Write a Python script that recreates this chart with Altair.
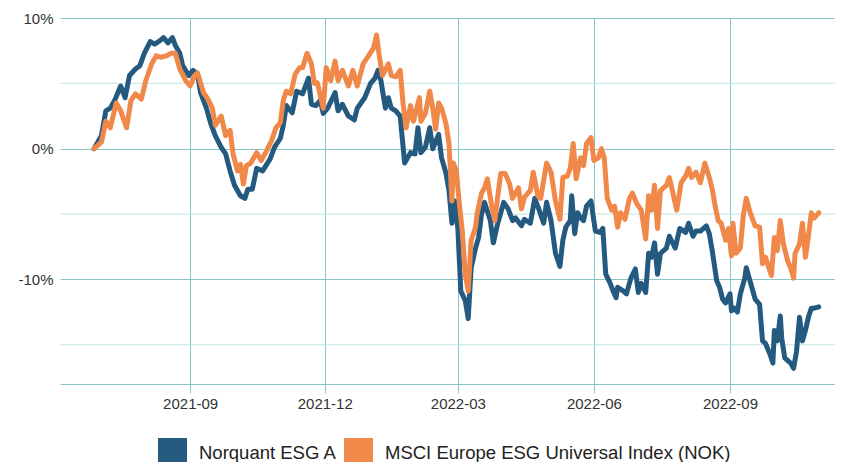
import altair as alt
import pandas as pd

# ---- data ----
start_date = "2021-06-28"
series_names = ["Norquant ESG A", "MSCI Europe ESG Universal Index (NOK)"]
series_colors = ["#245a80", "#f0884a"]

# days since start, cumulative return in %
blue_days = [0, 5, 8, 11, 14, 18, 21, 24, 28, 31, 34, 38, 41, 45, 47, 50, 53, 55, 58, 60,
             64, 67, 70, 72, 76, 79, 82, 86, 89, 92, 95, 99, 102, 104, 107, 110, 114, 119, 122, 126,
             128, 130, 134, 137, 141, 145, 147, 150, 153, 155, 158, 163, 165, 168, 172, 176, 178, 183, 187, 190,
             192, 194, 197, 199, 201, 204, 207, 210, 214, 217, 219, 221, 224, 227, 229, 233, 235, 238, 240, 242,
             244, 246, 248, 251, 253, 255, 258, 260, 262, 264, 268, 270, 273, 277, 280, 283, 285, 289, 291, 295,
             298, 301, 304, 306, 309, 312, 315, 317, 319, 322, 323, 325, 327, 329, 331, 333, 336, 339, 342, 344,
             346, 349, 351, 353, 354, 358, 360, 363, 366, 368, 370, 373, 375, 377, 379, 381, 383, 387, 389, 393,
             396, 400, 402, 405, 407, 410, 414, 416, 418, 421, 423, 425, 427, 430, 431, 433, 435, 437, 440, 441,
             444, 447, 450, 452, 454, 457, 459, 460, 462, 464, 465, 467, 471, 473, 475, 477, 479, 481, 483, 485,
             487, 490]
blue_vals = [0.0, 1.0, 2.9, 3.1, 3.7, 4.8, 3.9, 5.6, 6.1, 6.35, 7.3, 8.2, 8.0, 8.3, 8.5, 8.1, 8.5, 7.9, 7.3, 6.35,
             5.6, 6.0, 5.7, 4.3, 3.1, 1.9, 1.0, 0.1, -0.4, -1.7, -2.8, -3.6, -3.8, -3.1, -3.1, -1.5, -1.7, -0.8, 0.1, 0.8,
             1.8, 3.3, 2.75, 4.4, 4.2, 5.4, 3.4, 3.3, 3.7, 2.7, 3.1, 4.3, 2.9, 3.4, 2.5, 2.2, 3.1, 3.9, 5.0, 5.4,
             6.0, 5.2, 3.1, 3.9, 3.1, 2.9, 2.5, -1.1, -0.3, -0.4, 1.6, -0.3, 0.1, 1.6, 0.0, 1.1, -0.7, -1.9, -3.2, -5.7,
             -4.0, -6.1, -10.9, -11.6, -13.0, -9.1, -7.6, -6.8, -5.0, -4.1, -5.5, -7.2, -5.7, -4.1, -4.6, -5.5, -5.3, -5.9, -5.4, -5.7,
             -3.8, -4.7, -5.7, -4.1, -5.5, -8.0, -9.0, -7.0, -6.0, -5.5, -3.6, -6.5, -4.9, -5.3, -5.5, -4.4, -4.0, -6.3, -6.4, -6.1,
             -9.6, -10.3, -10.9, -11.4, -10.6, -10.9, -11.1, -9.9, -9.2, -11.0, -10.3, -11.0, -8.0, -8.3, -7.2, -9.6, -8.0, -7.6, -6.7, -7.6,
             -6.1, -6.4, -5.7, -6.7, -6.3, -6.3, -5.9, -6.5, -7.8, -10.1, -10.6, -11.5, -11.8, -11.1, -12.4, -12.2, -12.5, -11.1, -9.9, -9.1,
             -10.3, -11.5, -11.9, -14.7, -14.9, -15.7, -16.4, -13.9, -14.7, -12.8, -14.5, -16.0, -16.4, -16.8, -15.5, -12.9, -14.7, -13.9, -12.9, -12.2,
             -12.2, -12.1]

orange_days = [0, 5, 8, 11, 15, 18, 22, 25, 28, 32, 35, 39, 42, 45, 49, 52, 55, 58, 62, 65,
               68, 70, 74, 77, 80, 82, 86, 89, 92, 94, 97, 99, 101, 103, 106, 110, 113, 116, 120, 123,
               126, 128, 130, 133, 136, 139, 141, 144, 147, 149, 151, 155, 157, 160, 163, 165, 168, 172, 175, 178,
               182, 185, 189, 191, 193, 195, 199, 201, 204, 207, 209, 211, 214, 216, 220, 221, 224, 227, 229, 231,
               233, 235, 238, 240, 242, 243, 245, 247, 249, 251, 253, 255, 258, 259, 262, 264, 266, 269, 271, 273,
               275, 278, 281, 283, 287, 289, 291, 295, 297, 300, 302, 306, 309, 312, 315, 317, 320, 322, 324, 326,
               329, 331, 333, 336, 338, 341, 343, 345, 347, 350, 352, 354, 356, 359, 362, 364, 367, 370, 373, 375,
               377, 379, 381, 383, 387, 389, 391, 394, 397, 400, 402, 404, 407, 410, 413, 416, 418, 420, 422, 424,
               427, 429, 431, 432, 434, 437, 439, 441, 444, 447, 450, 452, 454, 456, 458, 460, 462, 464, 466, 469,
               471, 473, 474, 477, 479, 481, 483, 485, 487, 490]
orange_vals = [0.0, 0.5, 2.1, 1.6, 3.5, 2.9, 1.6, 3.7, 4.2, 3.8, 5.2, 6.5, 7.1, 7.0, 7.1, 7.3, 7.3, 6.1, 5.2, 4.8,
               5.6, 5.8, 4.3, 3.8, 3.1, 1.8, 2.5, 1.0, 1.4, -0.4, -1.7, -1.2, -2.7, -1.3, -1.1, -0.3, -0.9, -0.3, 0.6, 1.6,
               2.0, 3.7, 4.4, 4.2, 5.7, 6.2, 6.2, 7.3, 6.5, 5.0, 5.05, 3.1, 6.2, 5.2, 6.7, 5.2, 6.0, 4.8, 6.0, 4.8,
               6.5, 7.0, 7.7, 8.7, 7.0, 5.6, 6.5, 5.6, 5.5, 6.0, 3.4, 1.6, 3.3, 2.1, 3.9, 2.1, 2.7, 4.4, 3.1, 1.5,
               3.5, 3.1, 1.9, 0.4, -4.0, -1.1, -1.7, -4.2, -6.3, -9.6, -10.9, -7.0, -6.0, -5.0, -3.4, -3.0, -2.3, -4.5, -5.5, -3.6,
               -1.9, -1.9, -2.7, -3.8, -3.0, -4.6, -3.7, -3.2, -1.8, -3.6, -3.8, -1.1, -1.8, -4.0, -5.4, -2.2, -2.1, -1.5, 0.4, -2.3,
               -0.7, -1.3, 0.4, 0.85, -0.9, -0.7, 0.0, -0.7, -3.8, -4.7, -4.4, -6.0, -4.9, -5.4, -3.8, -3.4, -4.2, -4.7, -6.9, -3.6,
               -4.7, -2.8, -6.1, -3.2, -2.8, -2.2, -3.2, -4.7, -2.6, -2.1, -1.5, -2.2, -1.8, -2.6, -1.1, -2.2, -3.1, -4.4, -5.5, -5.7,
               -7.0, -6.1, -8.2, -5.7, -8.0, -7.6, -5.1, -3.8, -5.0, -5.9, -6.0, -8.8, -8.3, -9.0, -9.7, -6.8, -7.8, -5.5, -7.2, -8.6,
               -9.1, -9.9, -8.0, -7.3, -5.7, -8.3, -6.7, -4.9, -5.3, -4.9]

x_domain = [(2021, 6, 5), (2022, 11, 11)]
x_ticks = [(2021, 9, 1), (2021, 12, 1), (2022, 3, 1), (2022, 6, 1), (2022, 9, 1)]
y_domain = [-18, 10]
y_ticks = [-10, 0, 10]
minor_grid = [-15, -5, 5]

# ---- build table ----
def frame(days, vals, name):
    d = pd.Timestamp(start_date) + pd.to_timedelta(days, unit="D")
    return pd.DataFrame({"date": d.strftime("%Y-%m-%d"), "value": vals, "series": name})

df = pd.concat([frame(blue_days, blue_vals, series_names[0]),
                frame(orange_days, orange_vals, series_names[1])], ignore_index=True)
df["order"] = range(len(df))
minor_df = pd.DataFrame({"v": minor_grid})

major = "#88c7c8"
minor = "#c4e4e4"
font = "Liberation Sans"

def dt(t):
    return alt.DateTime(year=t[0], month=t[1], date=t[2])

y_scale = alt.Scale(domain=y_domain, nice=False, zero=False)

minor_rules = alt.Chart(minor_df).mark_rule(color=minor, strokeWidth=1).encode(
    y=alt.Y("v:Q", scale=y_scale, axis=None)
)

lines = alt.Chart(df).mark_line(strokeWidth=5, strokeJoin="round", strokeCap="round").encode(
    x=alt.X("date:T",
            scale=alt.Scale(domain=[dt(x_domain[0]), dt(x_domain[1])]),
            axis=alt.Axis(values=[dt(t) for t in x_ticks], format="%Y-%m", title=None,
                          grid=True, gridColor=major, gridWidth=1,
                          tickColor=major, tickSize=9, domainColor=major, domainWidth=1,
                          labelFontSize=15, labelColor="#333333", labelFont=font, labelPadding=3)),
    y=alt.Y("value:Q", scale=y_scale,
            axis=alt.Axis(values=y_ticks, labelExpr="datum.value + '%'", title=None, orient="left",
                          grid=True, gridColor=major, gridWidth=1, domain=False, ticks=False,
                          labelFontSize=15, labelColor="#333333", labelFont=font, labelPadding=7)),
    color=alt.Color("series:N",
                    scale=alt.Scale(domain=series_names, range=series_colors),
                    legend=alt.Legend(orient="none", legendX=98, legendY=420, direction="horizontal",
                                      title=None, symbolType="square", symbolSize=81,
                                      symbolStrokeWidth=20, labelFontSize=18.5, labelFont=font,
                                      labelColor="#222222", labelOffset=12, columnPadding=-23,
                                      labelLimit=1000)),
    order=alt.Order("order:Q"),
)

chart = alt.layer(minor_rules, lines).resolve_axis(y="independent").properties(
    width=775, height=366,
    padding={"left": 52, "top": 10, "right": 0, "bottom": 90},
    autosize=alt.AutoSizeParams(type="none"),
).configure_view(stroke=None)

chart.save("out.html", embed_options={"renderer": "svg", "actions": False})
